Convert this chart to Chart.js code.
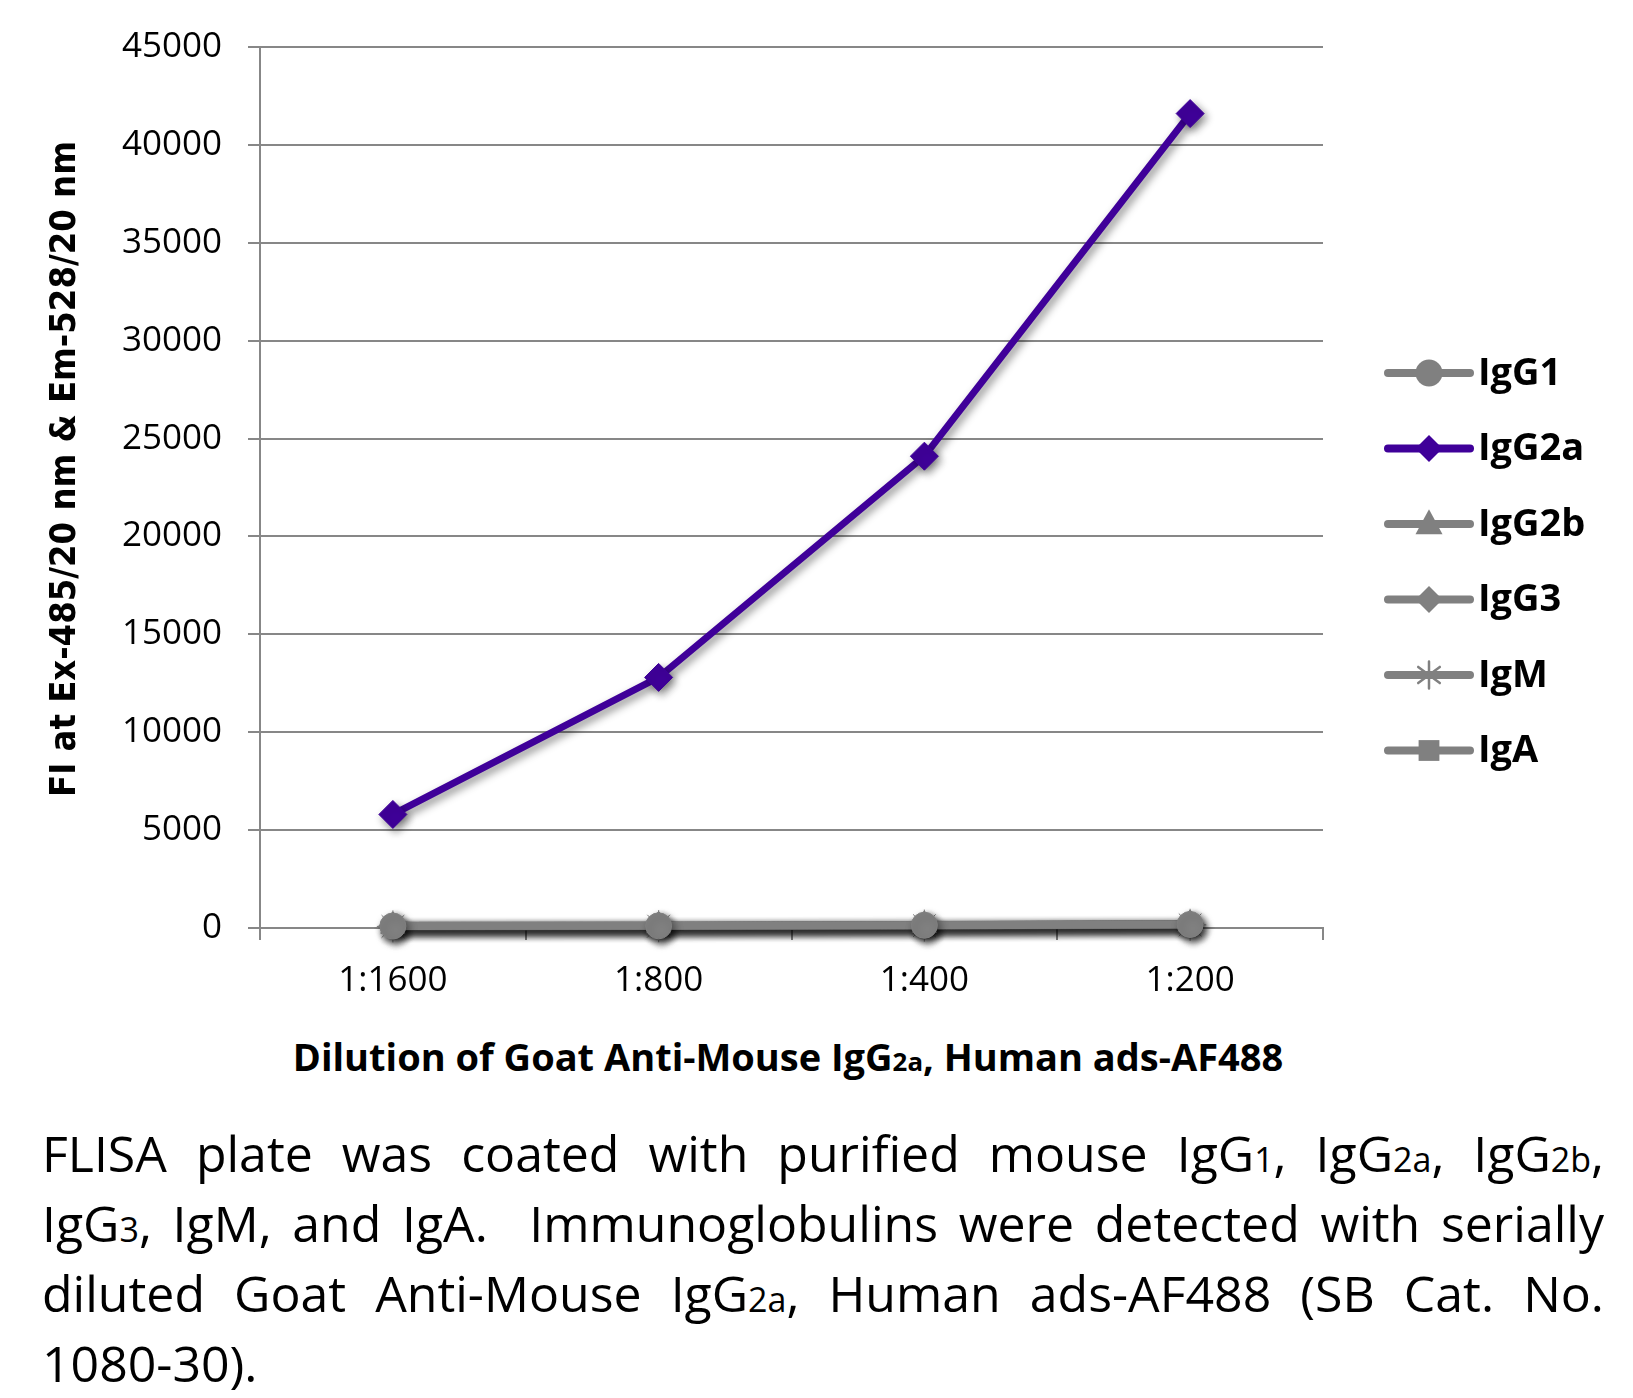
<!DOCTYPE html>
<html>
<head>
<meta charset="utf-8">
<script src="https://cdn.jsdelivr.net/npm/chart.js@4/dist/chart.umd.min.js"></script>
<style>
  html, body { margin: 0; padding: 0; background: #fff; }
  body { width: 1633px; height: 1398px; position: relative; overflow: hidden; font-family: "Open Sans", sans-serif; color: #000; }
  #wrap { position: absolute; left: 0; top: 0; width: 1633px; height: 1010px; }
  #xtitle { position: absolute; left: 0; width: 1576px; top: 1032px; text-align: center; font-weight: 700; font-size: 38px; line-height: 48px; white-space: nowrap; }
  #caption { position: absolute; left: 42px; top: 1118px; width: 1562px; font-size: 50px; line-height: 70px; }
  #caption div { height: 70px; text-align: justify; text-align-last: justify; white-space: nowrap; }
  #caption div.last { text-align-last: left; }
  .sub { font-size: 0.68em; line-height: 1; }
</style>
</head>
<body>
<div id="wrap"><canvas id="chart"></canvas></div>
<div id="xtitle">Dilution of Goat Anti-Mouse IgG<span class="sub">2a</span>, Human ads-AF488</div>
<div id="caption">
  <div>FLISA plate was coated with purified mouse IgG<span class="sub">1</span>, IgG<span class="sub">2a</span>, IgG<span class="sub">2b</span>,</div>
  <div>IgG<span class="sub">3</span>, IgM, and IgA.&nbsp; Immunoglobulins were detected with serially</div>
  <div>diluted Goat Anti-Mouse IgG<span class="sub">2a</span>, Human ads-AF488 (SB Cat. No.</div>
  <div class="last">1080-30).</div>
</div>
<script>
var categories = ["1:1600", "1:800", "1:400", "1:200"];
var seriesNames = ["IgG1", "IgG2a", "IgG2b", "IgG3", "IgM", "IgA"];
var igg1 = [100, 110, 140, 180];
var igg2a = [5800, 12800, 24100, 41600];
var igg2b = [90, 100, 130, 170];
var igg3 = [110, 120, 150, 200];
var igm = [80, 95, 120, 160];
var iga = [100, 115, 145, 190];
var yMax = 45000, yStep = 5000;
var yTitle = "FI at Ex-485/20 nm & Em-528/20 nm";

var grey = "#808080";
var purple = "#3f0099";
var gridColor = "#878787";

function series(label, values, color, style, radius) {
    return {
        label: label,
        data: values,
        borderColor: color,
        backgroundColor: color,
        borderWidth: color === purple ? 7 : 8,
        pointStyle: style,
        pointRadius: radius,
        pointHoverRadius: radius,
        pointBorderColor: color,
        pointBackgroundColor: color,
        pointBorderWidth: 1,
        tension: 0,
        clip: false
    };
}

var datasets = [
    series(seriesNames[0], igg1, grey, "circle", 13),
    series(seriesNames[2], igg2b, grey, "triangle", 14),
    series(seriesNames[3], igg3, grey, "rectRot", 14),
    series(seriesNames[4], igm, grey, "star", 16),
    series(seriesNames[5], iga, grey, "rect", 12),
    series(seriesNames[1], igg2a, purple, "rectRot", 14)
];

// draw a marker the same way for the legend
function marker(ctx, style, x, y, r, color) {
    ctx.fillStyle = color;
    ctx.strokeStyle = color;
    ctx.lineWidth = 3;
    ctx.beginPath();
    if (style === "circle") {
        ctx.arc(x, y, r, 0, Math.PI * 2);
        ctx.fill();
    } else if (style === "rectRot") {
        ctx.moveTo(x, y - r); ctx.lineTo(x + r, y); ctx.lineTo(x, y + r); ctx.lineTo(x - r, y);
        ctx.closePath(); ctx.fill();
    } else if (style === "triangle") {
        ctx.moveTo(x, y - r * 1.1); ctx.lineTo(x + r, y + r * 0.75); ctx.lineTo(x - r, y + r * 0.75);
        ctx.closePath(); ctx.fill();
    } else if (style === "rect") {
        ctx.rect(x - r * 0.8, y - r * 0.8, r * 1.6, r * 1.6); ctx.fill();
    } else if (style === "star") {
        ctx.lineWidth = 2.5;
        ctx.moveTo(x, y - r); ctx.lineTo(x, y + r);
        ctx.moveTo(x - r * 0.8, y - r * 0.6); ctx.lineTo(x + r * 0.8, y + r * 0.6);
        ctx.moveTo(x - r * 0.8, y + r * 0.6); ctx.lineTo(x + r * 0.8, y - r * 0.6);
        ctx.stroke();
    }
}

var lineShadow = {
    id: "lineShadow",
    beforeDatasetsDraw: function (chart) {
        var c = chart.ctx;
        c.save();
        c.shadowColor = "rgba(0,0,0,0.45)";
        c.shadowBlur = 8;
        c.shadowOffsetX = 3;
        c.shadowOffsetY = 4;
    },
    afterDatasetsDraw: function (chart) {
        chart.ctx.restore();
    }
};

var extras = {
    id: "extras",
    afterDraw: function (chart) {
        var c = chart.ctx;
        // y axis title
        c.save();
        c.translate(66, 469);
        c.rotate(-Math.PI / 2);
        c.font = "bold 36px 'Liberation Sans Narrow', 'DejaVu Sans Condensed', 'Open Sans'";
        c.fillStyle = "#000";
        c.textAlign = "center";
        c.textBaseline = "middle";
        c.fillText(yTitle, 0, 0);
        c.restore();

        // legend
        var order = [0, 5, 1, 2, 3, 4];
        for (var i = 0; i < order.length; i++) {
            var ds = chart.data.datasets[order[i]];
            var y = 373 + i * 75.5;
            c.save();
            c.strokeStyle = ds.borderColor;
            c.lineWidth = 8;
            c.lineCap = "round";
            c.beginPath();
            c.moveTo(1388, y);
            c.lineTo(1470, y);
            c.stroke();
            marker(c, ds.pointStyle, 1429, y, ds.pointStyle === "rect" ? 13 : 13.5, ds.borderColor);
            c.font = "bold 38px 'Open Sans'";
            c.fillStyle = "#000";
            c.textBaseline = "middle";
            c.textAlign = "left";
            c.fillText(ds.label, 1478, y + 1);
            c.restore();
        }
    }
};

new Chart(document.getElementById("chart"), {
    type: "line",
    data: { labels: categories, datasets: datasets },
    plugins: [lineShadow, extras],
    options: {
        responsive: true,
        maintainAspectRatio: false,
        animation: false,
        layout: { padding: { left: 0, top: 46, right: 310, bottom: 0 } },
        plugins: { legend: { display: false }, tooltip: { enabled: false } },
        scales: {
            x: {
                offset: true,
                afterFit: function (s) { s.height = 82; },
                grid: { offset: true, drawOnChartArea: false, drawTicks: true, tickLength: 12, color: gridColor, lineWidth: 2 },
                border: { display: true, color: gridColor, width: 2 },
                ticks: { color: "#000", padding: 20, font: { family: "'Open Sans'", size: 35 } }
            },
            y: {
                min: 0,
                max: yMax,
                afterFit: function (s) { s.width = 260; },
                grid: { color: gridColor, lineWidth: 2, tickLength: 12 },
                border: { display: true, color: gridColor, width: 2 },
                ticks: {
                    stepSize: yStep,
                    color: "#000",
                    padding: 26,
                    font: { family: "'Open Sans'", size: 35 },
                    callback: function (v) { return String(v); }
                }
            }
        }
    }
});
</script>
</body>
</html>
